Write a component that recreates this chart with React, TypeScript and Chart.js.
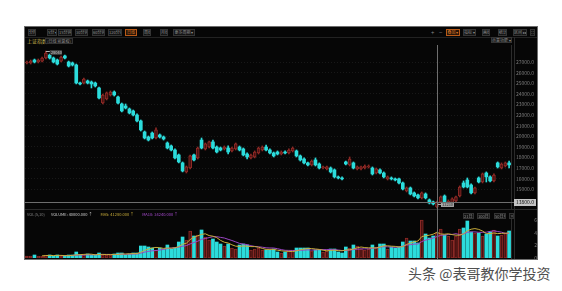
import React, { useEffect, useRef } from "react";
import { Chart, registerables } from "chart.js";

Chart.register(...registerables);

const FONT = "'Noto Sans CJK SC', 'Noto Sans', sans-serif";

const openP = [
  26910, 26910, 27190, 27000, 27090, 27380, 27660, 27380, 27190, 27090,
  27570, 27000, 26910, 26720, 25020, 25020, 25210, 25110, 25020, 24550,
  23130, 23510, 23890, 24170, 23700, 23040, 22850, 22570, 22380, 22000,
  21440, 20400, 19930, 20300, 19830, 20120, 19930, 19360, 19080, 18700,
  18230, 17480, 16630, 17000, 18230, 17950, 19640, 18800, 18980, 19460,
  18980, 18890, 18800, 18890, 18610, 18800, 18980, 18800, 18320, 17950,
  18040, 18420, 18700, 18980, 18700, 18420, 18510, 18320, 18510, 18420,
  18610, 18610, 18140, 17850, 17480, 17290, 17760, 17380, 17000, 16910,
  17000, 16820, 16160, 16060, 17570, 17290, 17480, 16910, 16910, 17000,
  17100, 17000, 16530, 16820, 16530, 15970, 16060, 15970, 15970, 15590,
  14840, 15120, 14650, 14460, 14180, 14550, 13990, 13800, 13330, 13800,
  14360, 13700, 13700, 13890, 14360, 15590, 15870, 15400, 14650, 16060,
  15680, 16530, 16160, 15780, 17480, 17000, 17190, 17480,
];
const closeP = [
  27000, 27090, 27000, 27190, 27380, 27850, 27380, 27000, 26810, 27470,
  27380, 26620, 26720, 25020, 24930, 25400, 25020, 24930, 24740, 23610,
  23890, 24080, 24170, 23890, 23130, 22380, 22660, 22190, 22000, 21440,
  20590, 19830, 19640, 19830, 20590, 19930, 19740, 18890, 18700, 17950,
  17570, 16720, 17100, 18140, 17760, 18890, 18890, 19270, 19460, 18890,
  18510, 18700, 18980, 18510, 18890, 19270, 18700, 18230, 18040, 18230,
  18510, 18890, 18980, 18700, 18420, 18140, 18320, 18510, 18420, 18700,
  18890, 18140, 17760, 17480, 17290, 17660, 17290, 17000, 17100, 17100,
  16630, 16160, 16060, 15970, 17380, 17850, 17000, 17100, 17100, 17190,
  17190, 16440, 16910, 16530, 16160, 16160, 15970, 15870, 15590, 15020,
  15120, 14550, 14360, 14180, 14650, 14180, 13700, 13610, 13800, 14270,
  13800, 13890, 14080, 14270, 15210, 15210, 15210, 14650, 15120, 15680,
  16440, 16160, 15780, 16340, 17100, 17380, 17480, 17290,
];
const highP = [
  27090, 27190, 27280, 27280, 27470, 28040, 27750, 27470, 27280, 27570,
  27660, 27090, 27000, 26810, 25110, 25490, 25300, 25210, 25110, 24640,
  23980, 24170, 24270, 24270, 23790, 23130, 23040, 22660, 22470, 22100,
  21530, 20490, 20020, 20400, 20780, 20210, 20020, 19460, 19170, 18800,
  18320, 17570, 17190, 18230, 18320, 18980, 19830, 19360, 19550, 19640,
  19080, 18980, 19080, 19080, 18980, 19360, 19080, 18890, 18420, 18320,
  18610, 18980, 19080, 19170, 18800, 18510, 18610, 18610, 18610, 18800,
  18980, 18700, 18230, 17950, 17570, 17760, 17950, 17480, 17190, 17190,
  17100, 16910, 16250, 16160, 17660, 18040, 17570, 17190, 17190, 17290,
  17290, 17100, 17000, 16910, 16630, 16250, 16160, 16060, 16060, 15680,
  15210, 15210, 14740, 14550, 14740, 14650, 14080, 13890, 13890, 14360,
  14460, 13990, 14180, 14360, 15310, 15780, 16060, 15500, 15210, 16160,
  16530, 16630, 16250, 16440, 17570, 17480, 17570, 17660,
];
const lowP = [
  26810, 26810, 26910, 26910, 27000, 27280, 27280, 26910, 26720, 27000,
  27280, 26530, 26620, 24930, 24830, 24930, 24930, 24550, 24640, 23510,
  23040, 23420, 23790, 23790, 23040, 22290, 22570, 22100, 21910, 21340,
  20490, 19740, 19550, 19740, 19740, 19830, 19640, 18800, 18610, 17850,
  17480, 16630, 16530, 16910, 17660, 17850, 18800, 18700, 18890, 18800,
  18420, 18610, 18700, 18320, 18510, 18700, 18610, 18140, 17850, 17850,
  17950, 18320, 18610, 18610, 18320, 18040, 18230, 18230, 18320, 18320,
  18510, 18040, 17660, 17380, 17190, 17190, 17190, 16910, 16910, 16820,
  16530, 16060, 15970, 15870, 17290, 17190, 16910, 16820, 16820, 16910,
  17000, 16340, 16440, 16440, 16060, 15870, 15870, 15780, 15500, 14930,
  14740, 14460, 14270, 14080, 14080, 14080, 13610, 13520, 13230, 13700,
  13700, 13610, 13610, 13800, 14270, 15120, 15120, 14550, 14550, 15590,
  15590, 15680, 15680, 15680, 17000, 16910, 17100, 17000,
];
const volumes = [
  3200, 3200, 4800, 3200, 3200, 4800, 4800, 3200, 4800, 3200,
  3200, 4800, 4800, 9600, 4800, 4800, 6400, 4800, 4800, 8000,
  4800, 4800, 4800, 6400, 8000, 8000, 4800, 6400, 8000, 8000,
  19200, 19200, 17600, 16000, 12800, 16000, 14400, 20800, 14400, 16000,
  25600, 33600, 28800, 43200, 35200, 36800, 44800, 33600, 28800, 30400,
  25600, 22400, 19200, 22400, 16000, 14400, 20800, 22400, 20800, 12800,
  14400, 16000, 12800, 12800, 12800, 14400, 9600, 8000, 9600, 11200,
  12800, 16000, 16000, 16000, 16000, 11200, 12800, 12800, 9600, 11200,
  14400, 14400, 9600, 8000, 17600, 16000, 20800, 19200, 14400, 12800,
  14400, 20800, 17600, 22400, 22400, 14400, 17600, 16000, 17600, 25600,
  32000, 27200, 27200, 24000, 60800, 38400, 32000, 35200, 40000, 46400,
  36800, 35200, 28800, 35200, 46400, 48000, 59200, 41600, 40000, 40000,
  35200, 38400, 41600, 44800, 35200, 36800, 40000, 43200,
];
const priceTicks = [15000, 16000, 17000, 18000, 19000, 20000, 21000, 22000, 23000, 24000, 25000, 26000, 27000];
const volTicks = [0, 20000, 40000, 60000];
const priceMin = 13132;
const priceMax = 28604;
const volMax = 62400;
const crossIndex = 108;
const crossPrice = 13800;

const UP_FILL = "#4a1212";
const UP_LINE = "#8e2a26";
const DOWN = "#2cdcdc";

function movingAverage(arr: number[], n: number) {
  return arr.map((_, i) =>
    i < n - 1 ? null : arr.slice(i - n + 1, i + 1).reduce((a, b) => a + b, 0) / n
  );
}

const leftButtons = [
  { t: "分时", x: 3, w: 8 },
  { t: "5分 ▾", x: 22, w: 10 },
  { t: "15分钟", x: 33, w: 14 },
  { t: "30分钟", x: 50, w: 13 },
  { t: "60分钟", x: 67, w: 13 },
  { t: "120分钟", x: 83, w: 14 },
  { t: "日线", x: 100, w: 12, on: true },
  { t: "周线", x: 118, w: 8 },
  { t: "月线", x: 135, w: 8 },
  { t: "更多周期 ▾", x: 148, w: 22 },
];
const rightButtons = [
  { t: "叠加 ▾", x: 421, w: 14, on: true },
  { t: "指标 ▾", x: 438, w: 13 },
  { t: "画线", x: 457, w: 8 },
  { t: "统计", x: 473, w: 9 },
  { t: "区间 ▸▸", x: 488, w: 14 },
  { t: "⛶", x: 505, w: 5 },
];
const volButtons = [
  { t: "21日均", x: 438, w: 11 },
  { t: "100日均", x: 452, w: 13 },
  { t: "50日均", x: 469, w: 12 },
  { t: "×", x: 484, w: 5 },
];

function Btn({ b, y, h }: { b: any; y: number; h: number }) {
  return (
    <div
      style={{
        position: "absolute",
        left: b.x,
        top: y,
        width: b.w,
        height: h,
        boxSizing: "border-box",
        border: `1px solid ${b.on ? "#b85a18" : "#343434"}`,
        background: b.on ? "#2a1608" : "#141414",
        color: b.on ? "#d97a2a" : "#8e8e8e",
        fontSize: 4,
        lineHeight: `${h - 2}px`,
        textAlign: "center",
        whiteSpace: "nowrap",
        overflow: "hidden",
      }}
    >
      {b.t}
    </div>
  );
}

export default function App() {
  const mainRef = useRef<HTMLCanvasElement>(null);
  const volRef = useRef<HTMLCanvasElement>(null);

  useEffect(() => {
    const labels = openP.map((_, i) => `${i + 1}`);
    const up = openP.map((o, i) => closeP[i] >= o);
    const hiIdx = highP.indexOf(Math.max(...highP));
    const loIdx = lowP.indexOf(Math.min(...lowP));

    const mainOverlay = {
      id: "mainOverlay",
      afterDatasetsDraw(chart: any) {
        const { ctx, chartArea: a, scales } = chart;
        const x = scales.x;
        const y = scales.y;
        ctx.save();
        ctx.font = `4px ${FONT}`;
        ctx.textBaseline = "middle";
        const hx = x.getPixelForValue(hiIdx);
        const hy = y.getPixelForValue(highP[hiIdx]);
        ctx.strokeStyle = "#bbbbbb";
        ctx.lineWidth = 1;
        ctx.beginPath();
        ctx.moveTo(hx, hy + 0.5);
        ctx.lineTo(hx + 4, hy + 0.5);
        ctx.stroke();
        ctx.fillStyle = "#3a3a3a";
        ctx.fillRect(hx + 4, hy - 1, 12, 5);
        ctx.fillStyle = "#d0d0d0";
        ctx.fillText(String(highP[hiIdx]), hx + 5, hy + 1.5);
        const lx = x.getPixelForValue(loIdx);
        const ly = y.getPixelForValue(lowP[loIdx]);
        ctx.strokeStyle = "#bbbbbb";
        ctx.beginPath();
        ctx.moveTo(lx, ly - 3.5);
        ctx.lineTo(lx + 4, ly - 3.5);
        ctx.stroke();
        ctx.fillStyle = "#a8a8a8";
        ctx.fillRect(lx + 4, ly - 6, 13, 5);
        ctx.fillStyle = "#222";
        ctx.fillText(String(lowP[loIdx]), lx + 5, ly - 3.5);
        const cx = Math.round(x.getPixelForValue(crossIndex)) + 0.5;
        const cy = Math.round(y.getPixelForValue(crossPrice)) + 0.5;
        ctx.strokeStyle = "#6e6e6e";
        ctx.beginPath();
        ctx.moveTo(cx, 0);
        ctx.lineTo(cx, chart.height);
        ctx.moveTo(a.left, cy);
        ctx.lineTo(a.right + 3, cy);
        ctx.stroke();
        ctx.fillStyle = "#c4c4c4";
        ctx.fillRect(a.right + 3, cy - 3.5, 22, 7);
        ctx.fillStyle = "#111";
        ctx.font = `5px ${FONT}`;
        ctx.fillText(crossPrice.toFixed(1), a.right + 5, cy);
        ctx.restore();
      },
    };

    const main = new Chart(mainRef.current as HTMLCanvasElement, {
      type: "bar",
      data: {
        labels,
        datasets: [
          {
            label: "body",
            data: openP.map((o, i) => [Math.min(o, closeP[i]), Math.max(o, closeP[i])]) as any,
            backgroundColor: up.map((u) => (u ? UP_FILL : DOWN)),
            borderColor: up.map((u) => (u ? UP_LINE : DOWN)),
            borderWidth: up.map((u) => (u ? 1 : 0)) as any,
            borderSkipped: false,
            barThickness: 3,
            grouped: false,
            order: 0,
          } as any,
          {
            label: "wick",
            data: lowP.map((l, i) => [l, highP[i]]) as any,
            backgroundColor: up.map((u) => (u ? UP_LINE : DOWN)),
            borderWidth: 0,
            barThickness: 1,
            grouped: false,
            order: 1,
          } as any,
        ],
      },
      options: {
        animation: false,
        responsive: false,
        maintainAspectRatio: false,
        layout: { padding: 0 },
        plugins: { legend: { display: false }, tooltip: { enabled: false } },
        scales: {
          x: { display: false, offset: true, grid: { display: false } },
          y: {
            position: "right",
            min: priceMin,
            max: priceMax,
            afterBuildTicks: (s: any) => {
              s.ticks = priceTicks.map((v) => ({ value: v }));
            },
            afterFit: (s: any) => {
              s.width = 26;
              s.paddingTop = 0;
              s.paddingBottom = 0;
            },
            ticks: {
              color: "#7c7c7c",
              font: { size: 5, family: FONT },
              padding: 5,
              callback: (v: any) => Number(v).toFixed(1),
            },
            grid: { color: "#181818", drawTicks: false, tickLength: 0 },
            border: { display: true, color: "#2c2c2c", dash: [1, 2] },
          },
        },
      } as any,
      plugins: [mainOverlay],
    });

    const volOverlay = {
      id: "volOverlay",
      afterDatasetsDraw(chart: any) {
        const { ctx, scales } = chart;
        const cx = Math.round(scales.x.getPixelForValue(crossIndex)) + 0.5;
        ctx.save();
        ctx.strokeStyle = "#6e6e6e";
        ctx.lineWidth = 1;
        ctx.beginPath();
        ctx.moveTo(cx, 0);
        ctx.lineTo(cx, chart.height);
        ctx.stroke();
        ctx.restore();
      },
    };

    const vol = new Chart(volRef.current as HTMLCanvasElement, {
      type: "bar",
      data: {
        labels,
        datasets: [
          {
            type: "line",
            label: "MA5",
            data: movingAverage(volumes, 5),
            borderColor: "#c9ad3a",
            borderWidth: 1,
            pointRadius: 0,
            order: 0,
          } as any,
          {
            type: "line",
            label: "MA10",
            data: movingAverage(volumes, 10),
            borderColor: "#9c46c4",
            borderWidth: 1,
            pointRadius: 0,
            order: 1,
          } as any,
          {
            type: "bar",
            label: "VOLUME",
            data: volumes,
            backgroundColor: up.map((u) => (u ? UP_FILL : DOWN)),
            borderColor: up.map((u) => (u ? UP_LINE : DOWN)),
            borderWidth: up.map((u) => (u ? 1 : 0)) as any,
            borderSkipped: false,
            barThickness: 3,
            order: 2,
          } as any,
        ],
      },
      options: {
        animation: false,
        responsive: false,
        maintainAspectRatio: false,
        layout: { padding: { top: 10, bottom: 1, left: 0, right: 0 } },
        plugins: { legend: { display: false }, tooltip: { enabled: false } },
        scales: {
          x: { display: false, offset: true, grid: { display: false } },
          y: {
            position: "right",
            min: 0,
            max: volMax,
            afterBuildTicks: (s: any) => {
              s.ticks = volTicks.map((v) => ({ value: v }));
            },
            afterFit: (s: any) => {
              s.width = 26;
              s.paddingTop = 0;
              s.paddingBottom = 0;
            },
            ticks: {
              color: "#7c7c7c",
              font: { size: 5, family: FONT },
              padding: 3,
              crossAlign: "far",
              callback: (v: any) => (Number(v) / 10000).toFixed(0),
            },
            grid: { display: false },
            border: { display: true, color: "#2c2c2c" },
          },
        },
      } as any,
      plugins: [volOverlay],
    });

    return () => {
      main.destroy();
      vol.destroy();
    };
  }, []);

  const ma5 = movingAverage(volumes, 5);
  const ma10 = movingAverage(volumes, 10);

  return (
    <div
      style={{
        position: "fixed",
        left: 0,
        top: 0,
        width: 562,
        height: 291,
        background: "#ffffff",
        fontFamily: FONT,
        overflow: "hidden",
      }}
    >
      <div
        style={{
          position: "absolute",
          left: 24,
          top: 26,
          width: 514,
          height: 234,
          boxSizing: "border-box",
          border: "1px solid #6d6d6d",
          background: "#060606",
        }}
      >
        <div style={{ position: "absolute", left: 0, top: 0, width: 512, height: 232 }}>
          {leftButtons.map((b, i) => (
            <Btn key={"l" + i} b={b} y={2} h={7} />
          ))}
          <div style={{ position: "absolute", left: 406, top: 2, color: "#888", fontSize: 6, lineHeight: "7px" }}>+</div>
          <div style={{ position: "absolute", left: 414, top: 2, color: "#888", fontSize: 6, lineHeight: "7px" }}>−</div>
          {rightButtons.map((b, i) => (
            <Btn key={"r" + i} b={b} y={2} h={7} />
          ))}
          <div style={{ position: "absolute", left: 0, top: 10, width: 512, height: 1, background: "#222" }} />
          <div
            style={{
              position: "absolute",
              left: 2,
              top: 11,
              color: "#c4b250",
              fontSize: 5,
              lineHeight: "6px",
              whiteSpace: "nowrap",
            }}
          >
            上证指数
          </div>
          <Btn b={{ t: "(日线 前复权)", x: 20, w: 28 }} y={11} h={6} />
          <Btn b={{ t: "示意功能 ▾", x: 466, w: 21 }} y={10} h={6} />
          <div style={{ position: "absolute", left: 489, top: 10, width: 1, height: 222, background: "#2a2a2a" }} />
          <div style={{ position: "absolute", left: 0, top: 182, width: 512, height: 1, background: "#2a2a2a" }} />
          <canvas
            ref={mainRef}
            width={512}
            height={164}
            style={{ position: "absolute", left: 0, top: 18, width: 512, height: 164, display: "block" }}
          />
          <canvas
            ref={volRef}
            width={512}
            height={50}
            style={{ position: "absolute", left: 0, top: 182, width: 512, height: 50, display: "block" }}
          />
          <div
            style={{
              position: "absolute",
              left: 2,
              top: 185,
              fontSize: 4,
              lineHeight: "5px",
              whiteSpace: "nowrap",
              color: "#808080",
            }}
          >
            <span>VOL(5,10)</span>
            <span style={{ color: "#cfcfcf", marginLeft: 6 }}>VOLUME: {volumes[crossIndex].toFixed(3)} ↑</span>
            <span style={{ color: "#c9ad3a", marginLeft: 8 }}>MA5: {(ma5[crossIndex] as number).toFixed(3)} ↑</span>
            <span style={{ color: "#a84bd0", marginLeft: 8 }}>MA10: {(ma10[crossIndex] as number).toFixed(3)} ↑</span>
          </div>
          {volButtons.map((b, i) => (
            <Btn key={"v" + i} b={b} y={186} h={6} />
          ))}
        </div>
      </div>
      <div
        style={{
          position: "absolute",
          left: 408,
          top: 265,
          fontSize: 14,
          lineHeight: "16px",
          color: "#505050",
          whiteSpace: "nowrap",
          fontFamily: "'Noto Sans CJK SC', sans-serif",
        }}
      >
        头条 @表哥教你学投资
      </div>
    </div>
  );
}
